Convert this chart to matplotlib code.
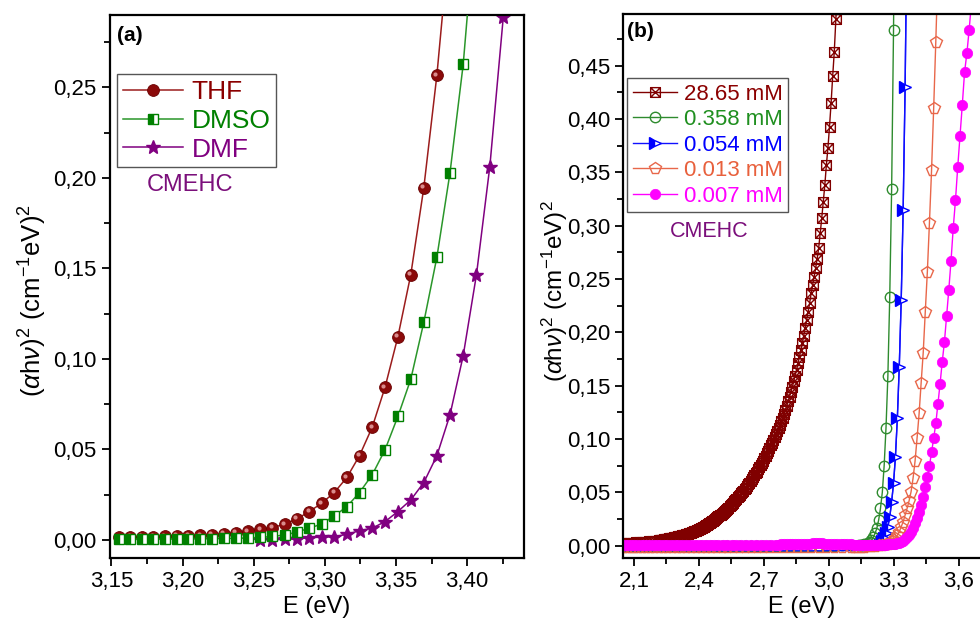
import numpy as np
import matplotlib.pyplot as plt
from matplotlib.path import Path
from matplotlib.ticker import MultipleLocator
from matplotlib.transforms import offset_copy

plt.rcParams['font.family'] = ['Liberation Sans', 'DejaVu Sans']
plt.rcParams['mathtext.fontset'] = 'custom'
plt.rcParams['mathtext.rm'] = 'Liberation Sans'
plt.rcParams['mathtext.it'] = 'Liberation Sans:italic'

# ---- panel (a): spectra taken every 1 nm, plotted against E = 1240/lambda ----
lam_thf = list(range(366, 394))
thf = [0.335, 0.2566, 0.1945, 0.1466, 0.1122, 0.0843, 0.0623, 0.0466, 0.0345, 0.0262,
       0.0203, 0.0157, 0.0116, 0.0087, 0.0068, 0.0058, 0.0048, 0.0038, 0.0032, 0.0028,
       0.0025, 0.0023, 0.0021, 0.0019, 0.0018, 0.0017, 0.0016, 0.0015]
lam_dmso = list(range(364, 394))
dmso = [0.35, 0.2627, 0.2028, 0.1561, 0.1202, 0.0888, 0.0682, 0.0498, 0.036, 0.0262,
        0.0184, 0.0133, 0.0088, 0.0065, 0.0043, 0.0028, 0.0019, 0.0014, 0.0011, 0.0009,
        0.0008, 0.0007, 0.0006, 0.0006, 0.0005, 0.0005, 0.0005, 0.0005, 0.0005, 0.0005]
lam_dmf = list(range(361, 382))
dmf = [0.40, 0.2887, 0.2063, 0.1466, 0.1018, 0.0691, 0.0465, 0.0317, 0.0221, 0.0157,
       0.0101, 0.0065, 0.0051, 0.0031, 0.0018, 0.0015, 0.0013, 0.0006, 0.0003, 0.0002,
       0.0002]
labels_a = ['THF', 'DMSO', 'DMF']

xticks_a = [3.15, 3.20, 3.25, 3.30, 3.35, 3.40]
xlabels_a = ['3,15', '3,20', '3,25', '3,30', '3,35', '3,40']
yticks_a = [0.00, 0.05, 0.10, 0.15, 0.20, 0.25]
ylabels_a = ['0,00', '0,05', '0,10', '0,15', '0,20', '0,25']

# ---- panel (b): concentration series ----
lam_c1 = list(range(408, 561)) + list(range(564, 609, 4))
c1 = [0.525, 0.494, 0.463, 0.440, 0.415, 0.393, 0.373, 0.357, 0.338, 0.3225,
      0.307, 0.293, 0.279, 0.269, 0.260, 0.252, 0.244, 0.2366,
      0.2276, 0.2196, 0.2118, 0.2043, 0.197, 0.1902, 0.1836, 0.1772, 0.171, 0.1652,
      0.1596, 0.1542, 0.149, 0.1443, 0.1398, 0.1354, 0.1312, 0.1272, 0.1233, 0.1198,
      0.1165, 0.1134, 0.1104, 0.1075, 0.1047, 0.1019, 0.0992, 0.0967, 0.0942, 0.0916,
      0.0891, 0.0867, 0.0843, 0.0820, 0.0798, 0.0776, 0.0755, 0.0735, 0.0715, 0.0696,
      0.0678, 0.0660, 0.0643, 0.0625, 0.0608, 0.0592, 0.0576, 0.0560, 0.0545, 0.0531,
      0.0517, 0.0503, 0.0490, 0.0477, 0.0465, 0.0453, 0.0441, 0.0428, 0.0415, 0.0403,
      0.0391, 0.0380, 0.0369, 0.0358, 0.0348, 0.0338, 0.0328, 0.0319, 0.0310, 0.0301,
      0.0293, 0.0284, 0.0276, 0.0267, 0.0259, 0.0251, 0.0243, 0.0236, 0.0229, 0.0222,
      0.0215, 0.0209, 0.0203, 0.0197, 0.0191, 0.0185, 0.0180, 0.0175, 0.0170, 0.0165,
      0.0160, 0.0155, 0.0151, 0.0147, 0.0143, 0.0139, 0.0135, 0.0131, 0.0127, 0.0123,
      0.0120, 0.0117, 0.0114, 0.0111, 0.0108, 0.0105, 0.0102, 0.0099, 0.0097, 0.0094,
      0.0092, 0.0090, 0.0088, 0.0086, 0.0084, 0.0082, 0.0080, 0.0078, 0.0076, 0.0074,
      0.0072, 0.0071, 0.0069, 0.0067, 0.0066, 0.0064, 0.0063, 0.0061, 0.0060, 0.0058,
      0.0057, 0.0056, 0.0055, 0.0053, 0.0052,
      0.0048, 0.0044, 0.0041, 0.0038, 0.0035, 0.0033, 0.0031, 0.0029, 0.0028, 0.0026,
      0.0025, 0.0024]

lam_c2 = list(range(375, 396)) + list(range(400, 606, 5))
c2 = [0.70, 0.4835, 0.334, 0.2334, 0.159, 0.1106, 0.075, 0.050, 0.035, 0.024,
      0.0163, 0.0116, 0.0079, 0.0055, 0.0038, 0.0027, 0.0019, 0.0013, 0.0009, 0.0006,
      0.0004,
      0.0003, 0.0003, 0.0002, 0.0002, 0.0002, 0.0002, 0.0002, 0.0002, 0.0002, 0.0002,
      0.0002, 0.0002, 0.0002, 0.0002, 0.0002, 0.0002, 0.0002, 0.0002, 0.0002, 0.0002,
      0.0002, 0.0002, 0.0002, 0.0002, 0.0002, 0.0002, 0.0002, 0.0002, 0.0002, 0.0002,
      0.0002, 0.0002, 0.0002, 0.0002, 0.0002, 0.0002, 0.0002, 0.0002, 0.0002, 0.0002,
      0.0002, 0.0002]

lam_c3 = list(range(369, 388)) + list(range(390, 611, 10))
c3 = [0.59, 0.430, 0.3147, 0.230, 0.168, 0.1194, 0.0834, 0.0585, 0.041, 0.027,
      0.018, 0.012, 0.0075, 0.004, 0.001, -0.001, -0.0025, -0.0035, -0.004,
      -0.0045, -0.0046, -0.0046, -0.0047, -0.0047, -0.0047, -0.0047, -0.0047, -0.0047,
      -0.0047, -0.0047, -0.0047, -0.0047, -0.0047, -0.0047, -0.0047, -0.0047, -0.0047,
      -0.0047, -0.0047, -0.0047, -0.0047, -0.0047]
n_mark_c3 = 15

lam_c4 = list(range(354, 381)) + list(range(382, 401, 2)) + list(range(405, 606, 5))
c4 = [0.54, 0.4725, 0.410, 0.352, 0.303, 0.257, 0.2194, 0.181, 0.153, 0.124,
      0.101, 0.0794, 0.0632, 0.0506, 0.042, 0.035, 0.0288, 0.0225, 0.0178, 0.0131,
      0.010, 0.0075, 0.0055, 0.004, 0.003, 0.002, 0.0015,
      0.0008, 0.0003, 0.0, -0.0003, -0.0005, -0.0007, -0.0008, -0.0009, -0.001, -0.001,
      -0.0012, -0.0014, -0.0015, -0.0016, -0.0016, -0.0016, -0.0016, -0.0015, -0.0014,
      -0.0013, -0.0012, -0.0011, -0.001, -0.001, -0.001, -0.001, -0.001, -0.001, -0.001,
      -0.001, -0.001, -0.001, -0.001, -0.001, -0.001, -0.001, -0.001, -0.001, -0.001,
      -0.001, -0.001, -0.001, -0.001, -0.001, -0.001, -0.001, -0.001, -0.001, -0.001,
      -0.001, -0.001]

lam_c5 = list(range(339, 396)) + list(range(396, 451, 2)) + list(range(454, 607, 4))
c5 = [0.51, 0.484, 0.4616, 0.444, 0.413, 0.384, 0.355, 0.324, 0.298, 0.267,
      0.240, 0.2153, 0.191, 0.1725, 0.152, 0.133, 0.1147, 0.1007, 0.0877, 0.0748,
      0.0643, 0.0553, 0.046, 0.038, 0.0319, 0.0257, 0.021, 0.0165, 0.013, 0.010,
      0.0078, 0.006, 0.0048, 0.0038, 0.003, 0.0024, 0.002,
      0.0017, 0.0015, 0.0013, 0.0012, 0.0011, 0.0010, 0.0010, 0.0009, 0.0009, 0.0009,
      0.0008, 0.0008, 0.0008, 0.0008, 0.0008, 0.0008, 0.0009, 0.0009, 0.0010, 0.0010,
      0.0011, 0.0011, 0.0012, 0.0013, 0.0014, 0.0015, 0.0016, 0.0018, 0.0019, 0.0020,
      0.0021, 0.0022, 0.0022, 0.0022, 0.0022, 0.0021, 0.0020, 0.0019, 0.0018, 0.0017,
      0.0016, 0.0015, 0.0014, 0.0013, 0.0012, 0.0012, 0.0011, 0.0011,
      0.0010, 0.0010, 0.0010, 0.0009, 0.0009, 0.0009, 0.0009, 0.0008, 0.0008, 0.0008,
      0.0008, 0.0008, 0.0008, 0.0008, 0.0008, 0.0008, 0.0008, 0.0008, 0.0008, 0.0008,
      0.0008, 0.0008, 0.0008, 0.0008, 0.0008, 0.0008, 0.0008, 0.0008, 0.0008, 0.0008,
      0.0008, 0.0008, 0.0008, 0.0008, 0.0008, 0.0008, 0.0008, 0.0008, 0.0008]
labels_b = ['28.65 mM', '0.358 mM', '0.054 mM', '0.013 mM', '0.007 mM']

xticks_b = [2.1, 2.4, 2.7, 3.0, 3.3, 3.6]
xlabels_b = ['2,1', '2,4', '2,7', '3,0', '3,3', '3,6']
yticks_b = [0.00, 0.05, 0.10, 0.15, 0.20, 0.25, 0.30, 0.35, 0.40, 0.45]
ylabels_b = ['0,00', '0,05', '0,10', '0,15', '0,20', '0,25', '0,30', '0,35', '0,40', '0,45']


def energy(lam):
    return 1240.0 / np.array(lam, dtype=float)


# open square with a cross inside
boxx = Path([(-1, -1), (1, -1), (1, 1), (-1, 1), (-1, -1), (1, 1), (-1, 1), (1, -1)],
            [Path.MOVETO, Path.LINETO, Path.LINETO, Path.LINETO, Path.LINETO,
             Path.LINETO, Path.MOVETO, Path.LINETO])

ylab = r'$(\alpha\mathrm{h}\nu)^2$ (cm$^{-1}$eV)$^2$'

fig = plt.figure(figsize=(9.8, 6.21), dpi=100)
axa = fig.add_axes([0.1122, 0.1014, 0.4225, 0.8744])
axb = fig.add_axes([0.636, 0.1014, 0.364, 0.8760])

# ---- (a) ----
axa.plot(energy(lam_dmf), dmf, '-', color='#800080', lw=1.1, marker='*', ms=10,
         mfc='#800080', mec='#800080', label=labels_a[2], zorder=2)
axa.plot(energy(lam_thf), thf, '-', color='#9b1c1c', lw=1.1, marker='o', ms=8.5,
         mfc='#8b0a0a', mec='#6a0000', mew=0.6, label=labels_a[0], zorder=3)
hl = offset_copy(axa.transData, fig=fig, x=-1.2, y=1.2, units='points')
axa.plot(energy(lam_thf), thf, ls='none', marker='o', ms=3, mfc='#d98c8c', mec='none',
         transform=hl, zorder=3.1)
axa.plot(energy(lam_dmso), dmso, '-', color='#2a962a', lw=1.1, marker='s', ms=7,
         fillstyle='left', mfc='#008000', mfcalt='white', mec='#008000', mew=1.0,
         label=labels_a[1], zorder=4)

axa.set_xlim(3.149, 3.44)
axa.set_ylim(-0.01, 0.29)
axa.set_xticks(xticks_a)
axa.set_xticklabels(xlabels_a)
axa.set_yticks(yticks_a)
axa.set_yticklabels(ylabels_a)
axa.xaxis.set_minor_locator(MultipleLocator(0.025))
axa.yaxis.set_minor_locator(MultipleLocator(0.025))

h, l = axa.get_legend_handles_labels()
order = [1, 2, 0]
lega = axa.legend([h[i] for i in order], [l[i] for i in order], loc='upper left',
                  bbox_to_anchor=(0.017, 0.891), borderaxespad=0, fontsize=19,
                  numpoints=1, handlelength=2.3, handletextpad=0.3, labelspacing=0.18,
                  borderpad=0.22, fancybox=False, framealpha=1, edgecolor='#555555')
for t, c in zip(lega.get_texts(), ['#8b0000', '#008000', '#800080']):
    t.set_color(c)
axa.text(0.089, 0.687, 'CMEHC', transform=axa.transAxes, fontsize=17,
         color='#7b0f7b', va='center', ha='left')
axa.text(0.016, 0.963, '(a)', transform=axa.transAxes, fontsize=15,
         fontweight='bold', va='center', ha='left')
axa.set_xlabel('E (eV)', fontsize=17)
axa.set_ylabel(ylab, fontsize=18.5)
axa.xaxis.set_label_coords(0.5, -0.07)
axa.yaxis.set_label_coords(-0.148, 0.475)

# ---- (b) ----
axb.plot(energy(lam_c1), c1, '-', color='#800000', lw=1.0, marker=boxx, ms=7,
         mfc='none', mec='#800000', mew=1.0, label=labels_b[0])
axb.plot(energy(lam_c2), c2, '-', color='#2e8b2e', lw=1.0, marker='o', ms=7.5,
         mfc='none', mec='#2e8b2e', mew=1.0, label=labels_b[1])
axb.plot(energy(lam_c3), c3, '-', color='#1010ff', lw=1.0)
axb.plot(energy(lam_c3[:n_mark_c3]), c3[:n_mark_c3], '-', color='#1010ff', lw=1.0,
         marker='>', ms=8, fillstyle='left', mfc='#0000ff', mfcalt='white',
         mec='#0000ff', mew=1.0, label=labels_b[2])
axb.plot(energy(lam_c4), c4, '-', color='#e8674a', lw=1.0, marker='p', ms=8.5,
         mfc='none', mec='#e8674a', mew=1.0, label=labels_b[3])
axb.plot(energy(lam_c5), c5, '-', color='#ff00ff', lw=1.0, marker='o', ms=7.5,
         mfc='#ff00ff', mec='#ff00ff', mew=0.5, label=labels_b[4])

axb.set_xlim(2.0506, 3.697)
axb.set_ylim(-0.0115, 0.4985)
axb.set_xticks(xticks_b)
axb.set_xticklabels(xlabels_b)
axb.set_yticks(yticks_b)
axb.set_yticklabels(ylabels_b)
axb.xaxis.set_minor_locator(MultipleLocator(0.15))
axb.yaxis.set_minor_locator(MultipleLocator(0.025))
axb.spines['right'].set_visible(False)

legb = axb.legend(loc='upper left', bbox_to_anchor=(0.011, 0.882), borderaxespad=0,
                  fontsize=16, numpoints=1, handlelength=2.0, handletextpad=0.3,
                  labelspacing=0.2, borderpad=0.25, fancybox=False, framealpha=1,
                  edgecolor='#555555')
for t, c in zip(legb.get_texts(), ['#8b0000', '#1f8f1f', '#0000ff', '#e8603c', '#ff00ff']):
    t.set_color(c)
axb.text(0.131, 0.60, 'CMEHC', transform=axb.transAxes, fontsize=15.5,
         color='#7b0f7b', va='center', ha='left')
axb.text(0.011, 0.967, '(b)', transform=axb.transAxes, fontsize=15,
         fontweight='bold', va='center', ha='left')
axb.set_xlabel('E (eV)', fontsize=17)
axb.set_ylabel(ylab, fontsize=17.5)
axb.xaxis.set_label_coords(0.5, -0.07)
axb.yaxis.set_label_coords(-0.15, 0.49)

for ax in (axa, axb):
    ax.tick_params(which='major', direction='out', length=6, width=1.3,
                   labelsize=16, top=False, right=False)
    ax.tick_params(which='minor', direction='out', length=4, width=1.3,
                   top=False, right=False)
    for s in ax.spines.values():
        s.set_linewidth(1.6)

fig.savefig('out.png', dpi=100)
